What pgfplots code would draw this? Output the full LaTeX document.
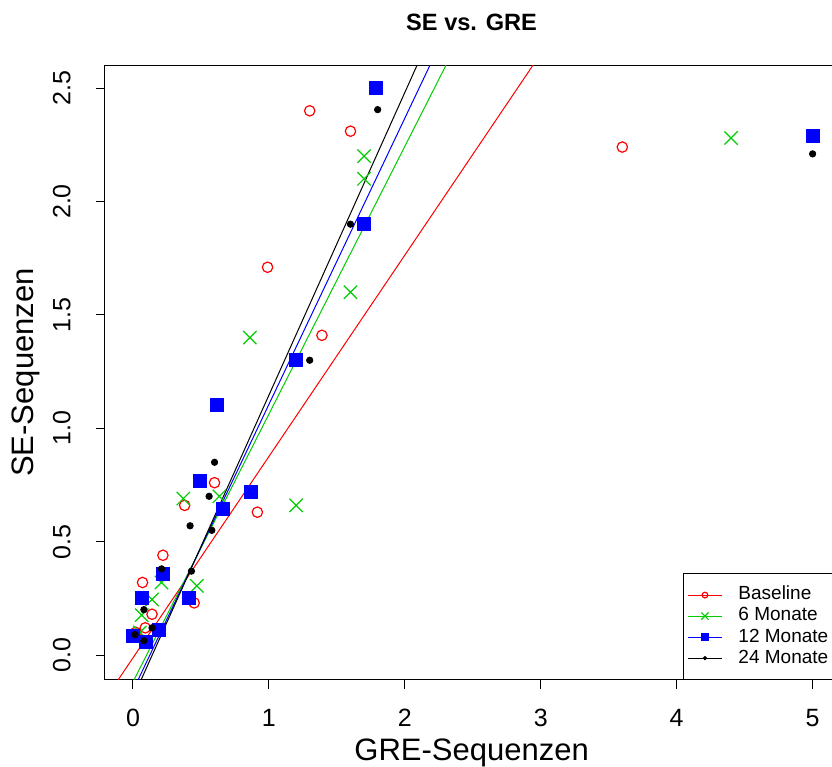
\documentclass[border=0pt]{standalone}
\usepackage{pgfplots}
\pgfplotsset{compat=1.18}
\usepackage{fontspec}
\setmainfont{Liberation Sans}
\definecolor{rred}{RGB}{255,0,0}
\definecolor{rgreen}{RGB}{0,205,0}
\definecolor{rblue}{RGB}{0,0,255}
\begin{document}
\begin{tikzpicture}
\begin{axis}[
  scale only axis, width=367.4pt, height=307.4pt,
  xmin=-0.206, xmax=5.2, ymin=-0.110, ymax=2.601,
  xtick={0,1,2,3,4,5}, ytick={0,0.5,1,1.5,2,2.5},
  tick align=outside, tick pos=left,
  major tick length=4.5pt,
  every tick/.style={black, line width=0.5pt},
  axis line style={line width=0.5pt},
  /pgf/number format/assume math mode=true,
  tick label style={font=\fontsize{12.5}{15}\selectfont, inner sep=0pt},
  x tick label style={anchor=north},
  xticklabel shift=10pt,
  y tick label style={rotate=90, anchor=south,
    /pgf/number format/fixed, /pgf/number format/fixed zerofill,
    /pgf/number format/precision=1},
  yticklabel shift=12.5pt,
  legend style={at={(axis cs:4.047,-0.110)}, anchor=south west, draw=black, fill=white,
    font=\fontsize{9.5}{11.5}\selectfont, inner xsep=2pt, inner ysep=6pt,
    row sep=1pt, column sep=8pt,
    nodes={inner sep=0pt, text height=7.2pt, text depth=2.3pt},
    column 2/.style={nodes={text width=56pt}}},
  legend cell align=left,
  legend image code/.code={
    \draw[#1, solid, line width=0.5pt] (0pt,0pt) -- (17pt,0pt);
    \draw[#1, mark options={scale=0.55}] plot coordinates {(8.5pt,0pt)};
  },
]
\addplot[rred, only marks, mark=o, mark size=2.6pt, line width=0.6pt] table {
1.30 2.40
1.60 2.31
0.99 1.71
1.39 1.41
3.60 2.24
0.60 0.76
0.38 0.66
0.915 0.63
0.22 0.44
0.07 0.32
0.45 0.23
0.14 0.18
0.09 0.12
0.02 0.10
};
\addlegendentry{Baseline}
\addplot[rgreen, only marks, mark=x, mark size=4.7pt, line width=0.6pt] table {
1.70 2.20
1.70 2.10
1.60 1.60
0.86 1.40
0.37 0.69
0.635 0.70
1.20 0.66
0.21 0.32
0.47 0.305
0.14 0.245
0.064 0.176
0.05 0.10
4.40 2.28
};
\addlegendentry{6 Monate}
\addplot[rblue, only marks, mark=square*, mark size=3.25pt] table {
1.79 2.50
1.70 1.90
1.20 1.30
0.62 1.105
0.49 0.77
0.87 0.72
0.66 0.645
0.22 0.36
0.064 0.25
0.41 0.25
0.19 0.11
0.0 0.085
0.096 0.06
5.0 2.29
};
\addlegendentry{12 Monate}
\addplot[black, only marks, mark=*, mark size=1.6pt] table {
1.80 2.405
1.60 1.90
1.30 1.30
0.60 0.85
0.56 0.70
0.42 0.57
0.58 0.55
0.21 0.38
0.43 0.37
0.08 0.20
0.14 0.12
0.015 0.09
0.08 0.063
5.0 2.21
};
\addlegendentry{24 Monate}
\addplot[rred, line width=0.5pt, forget plot] coordinates {(-0.110,-0.11) (2.943,2.601)};
\addplot[rgreen, line width=0.5pt, forget plot] coordinates {(0.007,-0.11) (2.303,2.601)};
\addplot[rblue, line width=0.5pt, forget plot] coordinates {(0.037,-0.11) (2.185,2.601)};
\addplot[black, line width=0.5pt, forget plot] coordinates {(0.059,-0.11) (2.090,2.601)};
\end{axis}
\node[font=\bfseries\fontsize{11.8}{14}\selectfont] at (183.3pt,328.6pt) {SE vs. GRE};
\node[font=\fontsize{15.5}{18}\selectfont, anchor=base, inner sep=0pt] at (183.3pt,-40.5pt) {GRE-Sequenzen};
\node[font=\fontsize{15.5}{18}\selectfont, anchor=base, rotate=90, inner sep=0pt] at (-35.5pt,153.75pt) {SE-Sequenzen};
\pgfresetboundingbox
\useasboundingbox (-52.5pt,-43.5pt) rectangle (363.5pt,340pt);
\end{tikzpicture}
\end{document}
